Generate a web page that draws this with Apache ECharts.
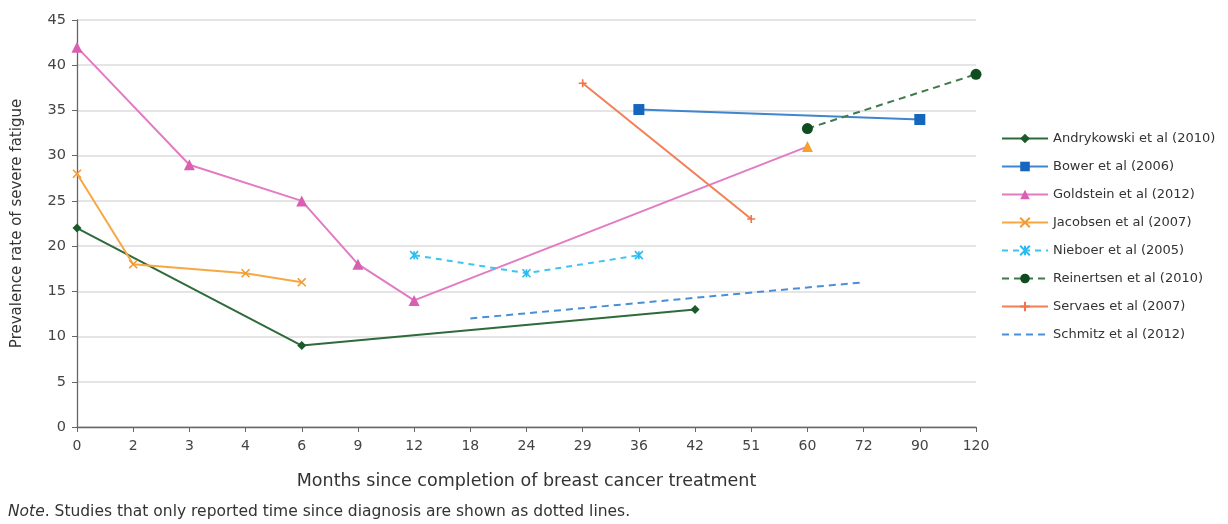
<!DOCTYPE html>
<html>
<head>
<meta charset="utf-8">
<script src="https://cdn.jsdelivr.net/npm/echarts@6/dist/echarts.min.js"></script>
<style>
html,body{margin:0;padding:0;background:#fff;}
#c{width:1228px;height:524px;}
</style>
</head>
<body>
<div id="c"></div>
<script>
const categories = ['0','2','3','4','6','9','12','18','24','29','36','42','51','60','72','90','120'];
const yTicks = [0,5,10,15,20,25,30,35,40,45];

const andrykowskiX = ['0','6','42'];
const andrykowskiY = [22, 9, 13];
const bowerX = ['36','90'];
const bowerY = [35.1, 34];
const goldsteinX = ['0','3','6','9','12','60'];
const goldsteinY = [42, 29, 25, 18, 14, 31];
const jacobsenX = ['0','2','4','6'];
const jacobsenY = [28, 18, 17, 16];
const nieboerX = ['12','24','36'];
const nieboerY = [19, 17, 19];
const reinertsenX = ['60','120'];
const reinertsenY = [33, 39];
const servaesX = ['29','51'];
const servaesY = [38, 23];
const schmitzX = ['18','72'];
const schmitzY = [12, 16];

const seriesNames = ['Andrykowski et al (2010)','Bower et al (2006)','Goldstein et al (2012)','Jacobsen et al (2007)','Nieboer et al (2005)','Reinertsen et al (2010)','Servaes et al (2007)','Schmitz et al (2012)'];

function pairs(xs, ys){ return xs.map((x,i)=>[x, ys[i]]); }

const X_PATH = 'path://M0,0L10,10M10,0L0,10';
const AST_PATH = 'path://M0,0L10,10M10,0L0,10M5,0L5,10';
const PLUS_PATH = 'path://M5,0L5,10M0,5L10,5';

function mk(name, data, color, lineType, symbol, size, markerColor, stroke){
  return {
    name: name, type: 'line', data: data,
    symbol: symbol, symbolSize: size, showSymbol: symbol !== 'none',
    lineStyle: {color: color, width: 2, type: lineType},
    itemStyle: stroke ? {color: markerColor, borderColor: markerColor, borderWidth: 1.6}
                      : {color: markerColor, borderWidth: 0},
    emphasis: {disabled: true},
    z: 3
  };
}

const goldData = pairs(goldsteinX, goldsteinY).map((p,i)=> i === goldsteinX.length-1 ? {value:p, itemStyle:{color:'#f5a030'}} : p);

const series = [
  mk(seriesNames[0], pairs(andrykowskiX, andrykowskiY), '#2f6b3a', 'solid', 'diamond', 9, '#1b5a2a', false),
  mk(seriesNames[1], pairs(bowerX, bowerY), '#3f86cc', 'solid', 'rect', 11, '#1766bd', false),
  mk(seriesNames[2], goldData, '#e27bc4', 'solid', 'triangle', 11, '#d95fb3', false),
  mk(seriesNames[3], pairs(jacobsenX, jacobsenY), '#f7a842', 'solid', X_PATH, 8, '#f29a30', true),
  mk(seriesNames[4], pairs(nieboerX, nieboerY), '#3cc5f0', [6,5], AST_PATH, 8, '#2bbcee', true),
  mk(seriesNames[5], pairs(reinertsenX, reinertsenY), '#3f7a4c', [7,5], 'circle', 11, '#0f4d20', false),
  mk(seriesNames[6], pairs(servaesX, servaesY), '#f27f55', 'solid', PLUS_PATH, 8, '#f07447', true),
  mk(seriesNames[7], pairs(schmitzX, schmitzY), '#4a8fd6', [7,5], 'none', 0, 'rgba(0,0,0,0)', false)
];

const FONT = '"DejaVu Sans", Verdana, sans-serif';
const chart = echarts.init(document.getElementById('c'));
chart.setOption({
  animation: false,
  backgroundColor: '#fff',
  textStyle: {fontFamily: FONT},
  title: {
    left: 3, top: 499,
    text: '{i|Note}. Studies that only reported time since diagnosis are shown as dotted lines.',
    textStyle: {
      fontFamily: FONT, fontSize: 15.5, fontWeight: 'normal', color: '#333',
      rich: {i: {fontFamily: FONT, fontStyle: 'italic', fontSize: 15.5, color: '#333'}}
    }
  },
  legend: {
    orient: 'vertical', left: 996, top: 127,
    itemWidth: 46, itemHeight: 12, itemGap: 15,
    textStyle: {fontFamily: FONT, fontSize: 13, color: '#333', lineHeight: 12},
    data: seriesNames
  },
  grid: {left: 77, right: 252, top: 20, bottom: 97, containLabel: false},
  xAxis: {
    type: 'category', data: categories, boundaryGap: false,
    name: 'Months since completion of breast cancer treatment',
    nameLocation: 'middle', nameGap: 45,
    nameTextStyle: {fontFamily: FONT, fontSize: 17.5, color: '#333'},
    axisLine: {lineStyle: {color: '#666', width: 1.3}},
    axisTick: {show: true, length: 5, lineStyle: {color: '#666'}, alignWithLabel: true},
    axisLabel: {fontFamily: FONT, fontSize: 14, color: '#444', margin: 12},
    splitLine: {show: false}
  },
  yAxis: {
    type: 'value', min: 0, max: 45, interval: 5,
    name: 'Prevalence rate of severe fatigue',
    nameLocation: 'middle', nameGap: 52,
    nameTextStyle: {fontFamily: FONT, fontSize: 15, color: '#333'},
    axisLine: {show: true, lineStyle: {color: '#666', width: 1.3}},
    axisTick: {show: true, length: 5, lineStyle: {color: '#666'}},
    axisLabel: {fontFamily: FONT, fontSize: 14.5, color: '#444', margin: 11, formatter: v => yTicks.includes(v) ? String(v) : ''},
    splitLine: {show: true, lineStyle: {color: '#dcdcdc', width: 1.5}}
  },
  series: series
});
</script>
</body>
</html>
